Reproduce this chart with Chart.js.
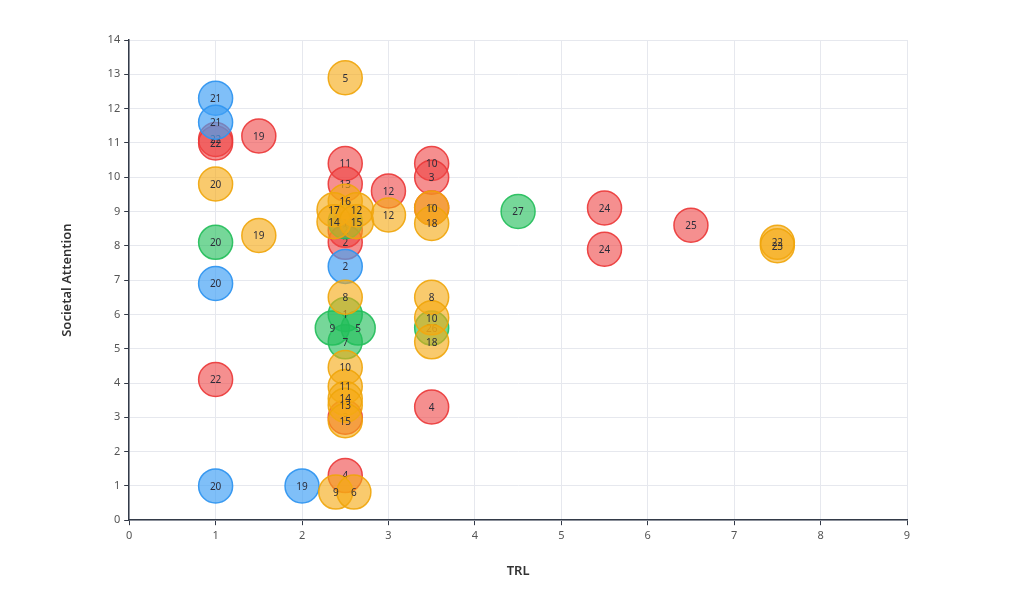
<!DOCTYPE html>
<html>
<head>
<meta charset="utf-8">
<script src="https://cdn.jsdelivr.net/npm/chart.js@4.4.0/dist/chart.umd.min.js"></script>
<style>
  html, body { margin: 0; padding: 0; background: #fff; }
  #wrap { width: 1024px; height: 605px; }
</style>
</head>
<body>
<div id="wrap"><canvas id="chart"></canvas></div>
<script>
// TRL (x), societal attention (y) and id label of each bubble, by group colour
const orangeTRL = [1, 1.5, 2.5, 2.5, 2.37, 2.63, 2.37, 2.63, 3, 3.5, 3.5, 2.5, 2.5, 2.5, 2.5, 2.5, 2.5, 2.39, 2.6, 3.5, 3.5, 3.5, 7.5, 7.5];
const orangeAttention = [9.8, 8.3, 12.9, 9.3, 9.05, 9.05, 8.7, 8.7, 8.9, 9.1, 8.65, 6.5, 4.45, 3.9, 3.55, 3.35, 2.9, 0.82, 0.82, 6.5, 5.9, 5.2, 8.1, 8.0];
const orangeIds = ['20', '19', '5', '16', '17', '12', '14', '15', '12', '10', '18', '8', '10', '11', '14', '13', '15', '9', '6', '8', '10', '18', '22', '23'];

const greenTRL = [1, 2.5, 2.5, 2.35, 2.65, 2.5, 3.5, 4.5];
const greenAttention = [8.1, 8.7, 6.0, 5.6, 5.6, 5.2, 5.6, 9.0];
const greenIds = ['20', '1', '1', '9', '5', '7', '26', '27'];

const blueTRL = [1, 1, 1, 1, 2, 2.5];
const blueAttention = [12.3, 11.6, 6.9, 1.0, 1.0, 7.4];
const blueIds = ['21', '21', '20', '20', '19', '2'];

const redTRL = [1, 1, 1.5, 1, 2.5, 2.5, 2.5, 2.5, 3, 3.5, 3.5, 3.5, 2.5, 2.5, 3.5, 5.5, 5.5, 6.5];
const redAttention = [11.1, 11.0, 11.2, 4.1, 10.4, 9.8, 8.45, 8.1, 9.6, 10.4, 10.0, 9.1, 3.0, 1.3, 3.3, 9.1, 7.9, 8.6];
const redIds = ['22', '22', '19', '22', '11', '13', '2', '2', '12', '10', '3', '3', '3', '4', '4', '24', '24', '25'];

const xTicks = [0, 1, 2, 3, 4, 5, 6, 7, 8, 9];
const yTicks = [0, 1, 2, 3, 4, 5, 6, 7, 8, 9, 10, 11, 12, 13, 14];

function points(xs, ys, ids) {
    return xs.map((x, i) => ({ x: x, y: ys[i], id: ids[i] }));
}

// draws the id text in the centre of every bubble, right after its dataset
const bubbleLabels = {
    id: 'bubbleLabels',
    afterDatasetDraw(chart, args) {
        const ctx = chart.ctx;
        const ds = chart.data.datasets[args.index];
        ctx.save();
        ctx.font = '10px "Noto Sans", sans-serif';
        ctx.fillStyle = '#2d2d3a';
        ctx.textAlign = 'center';
        ctx.textBaseline = 'middle';
        args.meta.data.forEach((el, i) => {
            ctx.fillText(ds.data[i].id, el.x, el.y + 1);
        });
        ctx.restore();
    }
};

function group(label, data, fill, line) {
    return {
        label: label,
        data: data,
        backgroundColor: fill,
        borderColor: line,
        borderWidth: 1.5,
        pointRadius: 17,
        pointHoverRadius: 17
    };
}

new Chart(document.getElementById('chart'), {
    type: 'scatter',
    data: {
        datasets: [
            group('Orange', points(orangeTRL, orangeAttention, orangeIds), 'rgba(245, 170, 20, 0.62)', 'rgba(240, 165, 10, 0.9)'),
            group('Green', points(greenTRL, greenAttention, greenIds), 'rgba(34, 190, 90, 0.62)', 'rgba(34, 190, 90, 0.9)'),
            group('Blue', points(blueTRL, blueAttention, blueIds), 'rgba(66, 160, 245, 0.68)', 'rgba(50, 150, 240, 0.95)'),
            group('Red', points(redTRL, redAttention, redIds), 'rgba(239, 68, 68, 0.6)', 'rgba(235, 55, 55, 0.9)')
        ]
    },
    options: {
        responsive: true,
        maintainAspectRatio: false,
        animation: false,
        layout: {
            padding: { left: 55, right: 117, top: 40, bottom: 22 }
        },
        plugins: {
            legend: { display: false },
            tooltip: { enabled: false }
        },
        scales: {
            x: {
                type: 'linear',
                min: 0,
                max: 9,
                afterBuildTicks: axis => { axis.ticks = xTicks.map(v => ({ value: v })); },
                ticks: {
                    color: '#555',
                    font: { size: 11, family: '"Noto Sans", sans-serif' },
                    padding: 4
                },
                grid: {
                    color: '#e6e8ee',
                    tickColor: '#333a48',
                    tickLength: 5
                },
                border: { color: '#333a48', width: 1.5 },
                title: {
                    display: true,
                    text: 'TRL',
                    color: '#333',
                    font: { size: 13, weight: '600', family: '"Noto Sans", sans-serif' },
                    padding: { top: 17 }
                }
            },
            y: {
                type: 'linear',
                min: 0,
                max: 14,
                afterBuildTicks: axis => { axis.ticks = yTicks.map(v => ({ value: v })); },
                ticks: {
                    color: '#555',
                    font: { size: 11, family: '"Noto Sans", sans-serif' },
                    padding: 4
                },
                grid: {
                    color: '#e6e8ee',
                    tickColor: '#333a48',
                    tickLength: 5
                },
                border: { color: '#333a48', width: 1.5 },
                title: {
                    display: true,
                    text: 'Societal Attention',
                    color: '#333',
                    font: { size: 13, weight: '600', family: '"Noto Sans", sans-serif' },
                    padding: { bottom: 29 }
                }
            }
        }
    },
    plugins: [bubbleLabels]
});
</script>
</body>
</html>
